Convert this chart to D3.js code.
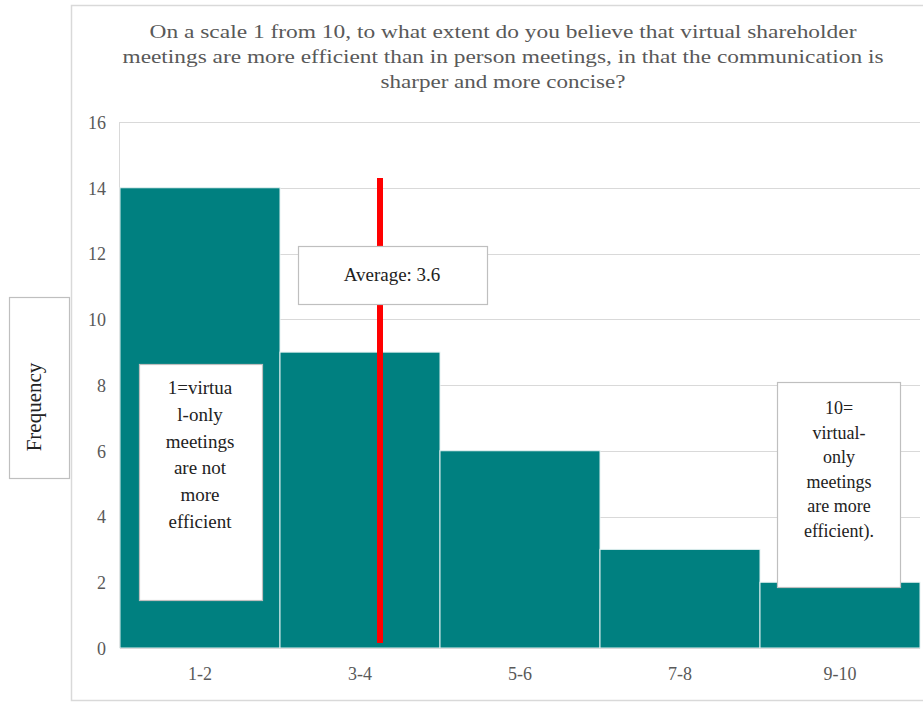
<!DOCTYPE html>
<html>
<head>
<meta charset="utf-8">
<script src="https://cdn.jsdelivr.net/npm/d3@7"></script>
<style>
  html, body { margin: 0; padding: 0; background: #fff; }
  svg { display: block; }
</style>
</head>
<body>
<script>
// Histogram of survey answers (score bins) with the average score marked.
const categories = ["1-2", "3-4", "5-6", "7-8", "9-10"];
const frequencies = [14, 9, 6, 3, 2];
const yTicks = [0, 2, 4, 6, 8, 10, 12, 14, 16];
const averageScore = 3.6;
const averageLineSpan = [0.15, 14.3];   // vertical extent of the average marker, in frequency units
const titleLines = [
  "On a scale 1 from 10, to what extent do you believe that virtual shareholder",
  "meetings are more efficient than in person meetings, in that the communication is",
  "sharper and more concise?"
];
const lowNoteLines = ["1=virtua", "l-only", "meetings", "are not", "more", "efficient"];
const highNoteLines = ["10=", "virtual-", "only", "meetings", "are more", "efficient)."];

const W = 923, H = 702;
const plot = { left: 120, right: 920, top: 122, bottom: 648 };
const grey = "#595959", gridCol = "#d9d9d9", teal = "#008080";
const SERIF = "'Liberation Serif', 'Times New Roman', serif";

const svg = d3.select("body").append("svg").attr("width", W).attr("height", H);

function txt(sel, size, fill) {
  return sel.style("font-family", SERIF).style("font-size", size + "px").attr("fill", fill);
}

// chart frame
svg.append("rect").attr("x", 71.5).attr("y", 5.5).attr("width", 900).attr("height", 695)
  .attr("fill", "#fff").attr("stroke", gridCol).attr("stroke-width", 1.5);

// title
const titleW = [707, 761, 245];
txt(svg.append("g").selectAll("text").data(titleLines).join("text"), 19, grey)
  .attr("x", 503).attr("y", (d, i) => 38 + i * 25)
  .attr("text-anchor", "middle")
  .attr("textLength", (d, i) => titleW[i]).attr("lengthAdjust", "spacingAndGlyphs")
  .text(d => d);

const x = d3.scaleBand().domain(categories).range([plot.left, plot.right]).padding(0);
const y = d3.scaleLinear().domain([0, 16]).range([plot.bottom, plot.top]);
// continuous score axis laid along the binned axis
const xScore = d3.scaleLinear().domain([0.35, 10.35]).range([plot.left, plot.right]);

// gridlines
svg.append("g").selectAll("line").data(yTicks.filter(t => t > 0)).join("line")
  .attr("x1", plot.left).attr("x2", plot.right)
  .attr("y1", d => Math.round(y(d)) + 0.5).attr("y2", d => Math.round(y(d)) + 0.5)
  .attr("stroke", gridCol).attr("stroke-width", 1.2);
svg.append("line").attr("x1", plot.left - 0.5).attr("x2", plot.left - 0.5)
  .attr("y1", plot.top).attr("y2", plot.bottom).attr("stroke", gridCol);

// bars
svg.append("g").selectAll("rect").data(frequencies).join("rect")
  .attr("x", (d, i) => x(categories[i]))
  .attr("y", d => y(d))
  .attr("width", x.bandwidth())
  .attr("height", d => y(0) - y(d))
  .attr("fill", teal)
  .attr("stroke", "#e6f2f2").attr("stroke-width", 1);

// baseline
svg.append("line").attr("x1", plot.left).attr("x2", plot.right)
  .attr("y1", plot.bottom + 0.5).attr("y2", plot.bottom + 0.5)
  .attr("stroke", gridCol).attr("stroke-width", 1.2);

// y axis
const yAxis = svg.append("g").attr("transform", `translate(${plot.left - 14},0)`)
  .call(d3.axisLeft(y).tickValues(yTicks).tickSize(0).tickPadding(0));
yAxis.select(".domain").remove();
txt(yAxis.selectAll("text"), 18, grey).attr("dy", "0.35em");

// x axis
const xAxis = svg.append("g").attr("transform", `translate(0,${plot.bottom})`)
  .call(d3.axisBottom(x).tickSize(0).tickPadding(19));
xAxis.select(".domain").remove();
txt(xAxis.selectAll("text"), 18, grey);

// average marker
svg.append("line")
  .attr("x1", xScore(averageScore)).attr("x2", xScore(averageScore))
  .attr("y1", y(averageLineSpan[0])).attr("y2", y(averageLineSpan[1]))
  .attr("stroke", "#ff0000").attr("stroke-width", 6);

function noteBox(x0, y0, w, h) {
  svg.append("rect").attr("x", x0 + 0.5).attr("y", y0 + 0.5).attr("width", w).attr("height", h)
    .attr("fill", "#fff").attr("stroke", "#bfbfbf").attr("stroke-width", 1.2);
}

noteBox(298, 246, 189, 58);
txt(svg.append("text"), 19, "#222").attr("x", 392).attr("y", 281).attr("text-anchor", "middle")
  .text("Average: " + averageScore);

// scale end notes
noteBox(139, 364, 123, 236);
txt(svg.append("g").selectAll("text").data(lowNoteLines).join("text"), 19, "#222")
  .attr("x", 200).attr("y", (d, i) => 394 + i * 26.8)
  .attr("text-anchor", "middle")
  .text(d => d);

noteBox(777, 382, 123, 205);
txt(svg.append("g").selectAll("text").data(highNoteLines).join("text"), 18, "#222")
  .attr("x", 839).attr("y", (d, i) => 414 + i * 24.5)
  .attr("text-anchor", "middle")
  .text(d => d);

// y axis title
noteBox(9, 297, 60, 181);
txt(svg.append("text"), 21, "#222").attr("transform", "translate(41,407) rotate(-90)")
  .attr("text-anchor", "middle")
  .text("Frequency");
</script>
</body>
</html>
